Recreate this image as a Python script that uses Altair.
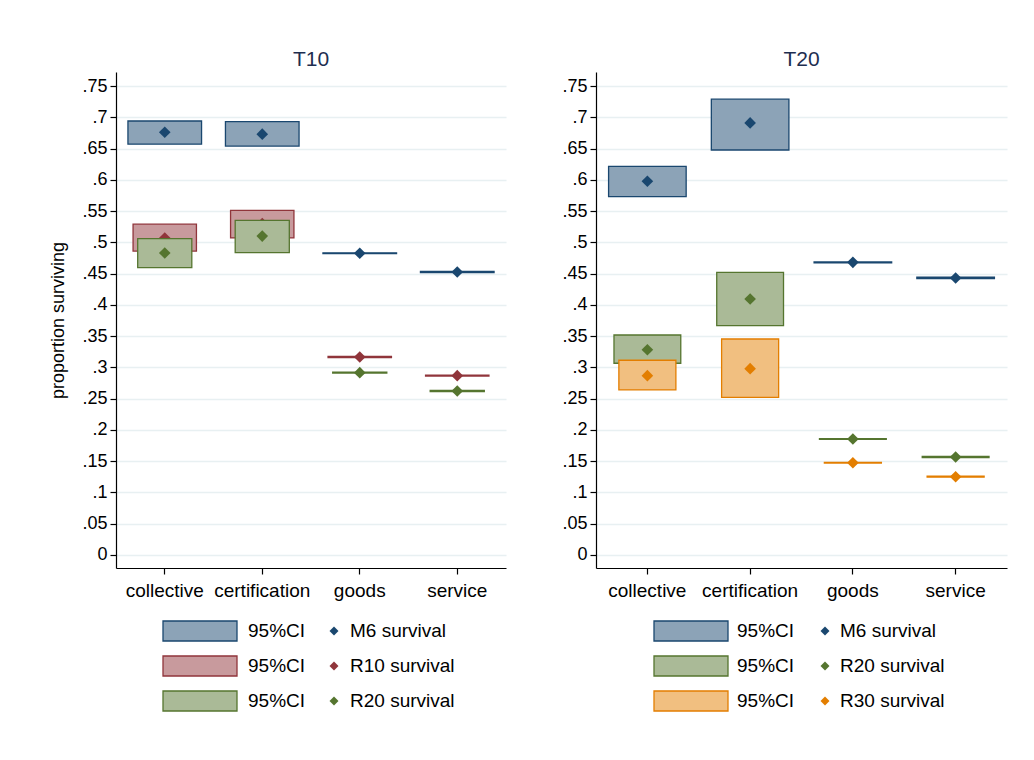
import altair as alt
import pandas as pd

categories = ["collective", "certification", "goods", "service"]
y_ticks = [0, 0.05, 0.1, 0.15, 0.2, 0.25, 0.3, 0.35, 0.4, 0.45, 0.5, 0.55, 0.6, 0.65, 0.7, 0.75]

# ---- T10 panel ----
t10_series = ["M6", "R10", "R20"]
t10_m6_lo = [0.657, 0.654, 0.4818, 0.4515]
t10_m6_mid = [0.676, 0.673, 0.4825, 0.4526]
t10_m6_hi = [0.694, 0.693, 0.4832, 0.4537]
t10_r10_lo = [0.486, 0.507, 0.3158, 0.2861]
t10_r10_mid = [0.507, 0.530, 0.3166, 0.2868]
t10_r10_hi = [0.529, 0.551, 0.3174, 0.2875]
t10_r20_lo = [0.4595, 0.4835, 0.2909, 0.2612]
t10_r20_mid = [0.483, 0.510, 0.2916, 0.2623]
t10_r20_hi = [0.506, 0.535, 0.2923, 0.2634]

# ---- T20 panel ----
t20_series = ["M6", "R20", "R30"]
t20_m6_lo = [0.573, 0.6477, 0.4673, 0.4422]
t20_m6_mid = [0.5976, 0.691, 0.468, 0.443]
t20_m6_hi = [0.6216, 0.729, 0.4687, 0.4442]
t20_r20_lo = [0.3066, 0.3667, 0.1848, 0.1558]
t20_r20_mid = [0.3283, 0.4094, 0.1855, 0.1567]
t20_r20_hi = [0.3518, 0.452, 0.1862, 0.1578]
t20_r30_lo = [0.2639, 0.2522, 0.147, 0.1244]
t20_r30_mid = [0.2868, 0.298, 0.1476, 0.1252]
t20_r30_hi = [0.3114, 0.3454, 0.1482, 0.1261]

legend_ci_label = "95%CI"

STROKE = {"M6": "#1a476f", "R10": "#90353b", "R20": "#55752f", "R30": "#e37e00"}
FILL = {"M6": "#8ca3b7", "R10": "#c89a9d", "R20": "#aaba97", "R30": "#f1bf80"}
BAND_FRAC = [0.755, 0.65, 0.555]
FONT = "Liberation Sans"
H = 496
YDOM = [-0.0208, 0.7724]


def make_df(series, los, mids, his):
    rows = []
    for s, lo, mid, hi in zip(series, los, mids, his):
        for c, a, m, b in zip(categories, lo, mid, hi):
            rows.append({"series": s, "cat": c, "lo": a, "mid": m, "hi": b})
    return pd.DataFrame(rows)


def panel(title, df, series, width, ytitle, lx):
    xenc = alt.X(
        "cat:N", sort=categories,
        scale=alt.Scale(paddingInner=0, paddingOuter=0),
        axis=alt.Axis(title=None, labelFontSize=19, labelPadding=7, tickSize=6,
                      labelAngle=0, grid=False, domainColor="black", tickColor="black",
                      labelColor="black", labelFont=FONT, domainWidth=1.2, tickWidth=1.2),
    )
    yaxis = alt.Axis(
        values=y_ticks, title=ytitle,
        labelExpr="datum.value == 0 ? '0' : substring(format(datum.value, '.2~f'), 1)",
        labelFontSize=18, labelPadding=3, tickSize=6, grid=True, gridColor="#e8f0f2",
        gridWidth=1.6, domainColor="black", tickColor="black", labelColor="black",
        labelFont=FONT, titleFont=FONT, titleFontSize=18, titleFontWeight="normal",
        titleColor="black", titlePadding=14, domainWidth=1.2, tickWidth=1.2,
    )
    yscale = alt.Scale(domain=YDOM, nice=False, zero=False)
    base = alt.Chart(df)
    layers = []
    for i, s in enumerate(series):
        sub = base.transform_filter(alt.datum.series == s)
        box = sub.mark_bar(
            width=alt.RelativeBandSize(BAND_FRAC[i]), fill=FILL[s], stroke=STROKE[s],
            strokeWidth=1.3, opacity=1,
        ).encode(x=xenc, y=alt.Y("lo:Q", scale=yscale, axis=yaxis), y2="hi:Q")
        pt = sub.mark_point(
            shape="diamond", filled=True, size=135, color=STROKE[s], opacity=1,
        ).encode(x=xenc, y=alt.Y("mid:Q", scale=yscale, axis=yaxis))
        layers += [box, pt]
    main = alt.layer(*layers)

    ldf = pd.DataFrame({"row": [0, 1, 2], "series": series,
                        "label": [s + " survival" for s in series],
                        "ci": [legend_ci_label] * 3})
    ly = alt.Y("row:O", scale=alt.Scale(type="point", domain=[0, 1, 2],
                                        range=[559, 629], padding=0), axis=None)
    fill_enc = alt.Fill("series:N", scale=alt.Scale(domain=series, range=[FILL[s] for s in series]), legend=None)
    stroke_enc = alt.Stroke("series:N", scale=alt.Scale(domain=series, range=[STROKE[s] for s in series]), legend=None)
    dcol_enc = alt.Fill("series:N", scale=alt.Scale(domain=series, range=[STROKE[s] for s in series]), legend=None)
    lbase = alt.Chart(ldf)
    swatch = lbase.mark_point(
        shape="M-1,-0.27L1,-0.27L1,0.27L-1,0.27Z", size=74 * 74, filled=True,
        opacity=1, strokeWidth=1.3,
    ).encode(x=alt.value(lx[0]), y=ly, fill=fill_enc, stroke=stroke_enc)
    citext = lbase.mark_text(align="left", baseline="middle", fontSize=19, font=FONT,
                             color="black").encode(x=alt.value(lx[1]), y=ly, text="ci:N")
    ldiam = lbase.mark_point(shape="diamond", filled=True, size=80, opacity=1,
                             strokeWidth=0).encode(
        x=alt.value(lx[2]), y=ly, fill=dcol_enc)
    ltext = lbase.mark_text(align="left", baseline="middle", fontSize=19, font=FONT,
                            color="black").encode(x=alt.value(lx[3]), y=ly, text="label:N")
    swatch_layer = alt.layer(swatch).resolve_scale(fill="shared")
    legend = alt.layer(swatch_layer, citext, ldiam, ltext).resolve_scale(fill="independent")

    return alt.layer(main, legend).resolve_scale(y="independent", fill="independent",
                                                  stroke="independent").properties(
        width=width, height=H,
        title=alt.TitleParams(title, fontSize=21, font=FONT, fontWeight="normal",
                              color="#1e2e50", offset=2),
    )


df10 = make_df(t10_series, [t10_m6_lo, t10_r10_lo, t10_r20_lo],
               [t10_m6_mid, t10_r10_mid, t10_r20_mid], [t10_m6_hi, t10_r10_hi, t10_r20_hi])
df20 = make_df(t20_series, [t20_m6_lo, t20_r20_lo, t20_r30_lo],
               [t20_m6_mid, t20_r20_mid, t20_r30_mid], [t20_m6_hi, t20_r20_hi, t20_r30_hi])

left = panel("T10", df10, t10_series, 390, "proportion surviving", [84, 132, 218, 234])
right = panel("T20", df20, t20_series, 411, None, [95, 141, 229, 244])

chart = alt.hconcat(left, right, spacing=55).properties(
    padding={"left": 41, "top": 41, "right": 5, "bottom": 5},
    background="white",
).configure_view(stroke=None)

chart.save("out.html", embed_options={"renderer": "svg", "actions": False})
